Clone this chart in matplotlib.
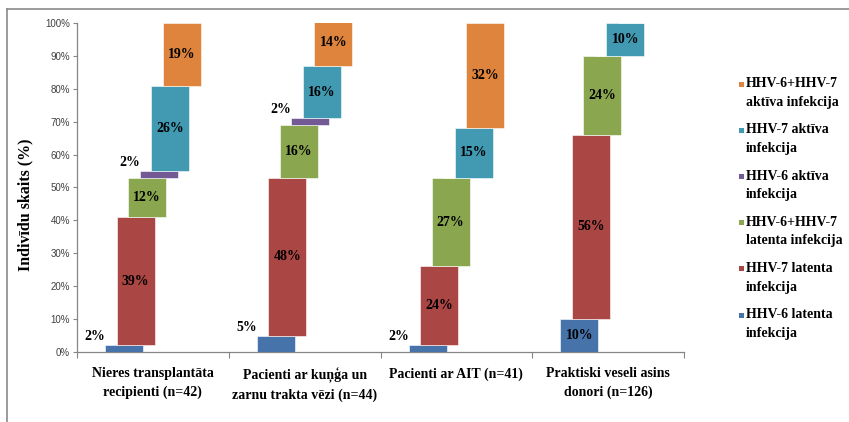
import matplotlib
matplotlib.use("Agg")
import matplotlib.pyplot as plt
from matplotlib.patches import Rectangle
from matplotlib.lines import Line2D
import numpy as np

groups = ["Nieres transplantāta\nrecipienti (n=42)",
          "Pacienti ar kuņģa un\nzarnu trakta vēzi (n=44)",
          "Pacienti ar AIT (n=41)",
          "Praktiski veseli asins\ndonori (n=126)"]

series = ["HHV-6 latenta\ninfekcija",
          "HHV-7 latenta\ninfekcija",
          "HHV-6+HHV-7\nlatenta infekcija",
          "HHV-6 aktīva\ninfekcija",
          "HHV-7 aktīva\ninfekcija",
          "HHV-6+HHV-7\naktīva infekcija"]

hhv6_lat = [2, 5, 2, 10]
hhv7_lat = [39, 48, 24, 56]
both_lat = [12, 16, 27, 24]
hhv6_akt = [2, 2, 0, 0]
hhv7_akt = [26, 16, 15, 10]
both_akt = [19, 14, 32, 0]

colors = ["#4673AA", "#AA4644", "#8AA64E", "#735A95", "#4199B2", "#DE843D"]

values = [hhv6_lat, hhv7_lat, both_lat, hhv6_akt, hhv7_akt, both_akt]

serif = "Liberation Serif"
W, H = 849, 422

fig = plt.figure(figsize=(W / 100, H / 100), dpi=100)
ax = fig.add_axes([0.0907, 0.1659, 0.7150, 0.7796])

x = np.arange(len(groups))
width = 0.25
step = 0.0757
bottom = np.zeros(len(groups))
for j, vals in enumerate(values):
    vals = np.array(vals, dtype=float)
    xs = x + (j - 2.5) * step
    ax.bar(xs, vals, width, bottom=bottom, color=colors[j],
           edgecolor="white", linewidth=0.4, zorder=3)
    for xi, v, b in zip(xs, vals, bottom):
        if v <= 0:
            continue
        lab = f"{v:.0f}%"
        if v < 6:
            # small bars get their label outside, to the upper left
            ax.text(xi - width / 2, b + v + 0.6, lab, ha="right", va="bottom",
                    family=serif, fontweight="bold", fontsize=10, color="black")
        else:
            ax.text(xi, b + v / 2, lab, ha="center", va="center",
                    family=serif, fontweight="bold", fontsize=10, color="black")
    bottom = bottom + vals

ax.set_xlim(-0.5, len(groups) - 0.5)
ax.set_ylim(0, 100)
ax.set_yticks(np.arange(0, 101, 10))
ax.set_yticklabels([f"{t}%" for t in range(0, 101, 10)],
                   family="Liberation Sans", fontsize=7, color="#404040")
ax.tick_params(axis="y", length=3, width=0.8, color="#868686", pad=2)

ax.set_xticks(x)
ax.set_xticklabels(groups, family=serif, fontweight="bold", fontsize=10)
for t in ax.get_xticklabels():
    t.set_linespacing(1.55)
ax.set_xticks(np.arange(-0.5, len(groups), 1.0), minor=True)
ax.tick_params(axis="x", which="major", length=0, pad=11)
ax.tick_params(axis="x", which="minor", length=4, width=0.8, color="#868686")

for s in ["top", "right"]:
    ax.spines[s].set_visible(False)
for s in ["left", "bottom"]:
    ax.spines[s].set_color("#868686")
    ax.spines[s].set_linewidth(0.9)

ax.set_ylabel("Indivīdu skaits (%)", family=serif, fontweight="bold",
              fontsize=11.5)
ax.yaxis.set_label_coords(-0.072, 0.447)

# legend on the right, newest series on top
first_line_y = 84
entry_step = 46.2
for k, (name, c) in enumerate(zip(series[::-1], colors[::-1])):
    yc = first_line_y + k * entry_step
    fig.add_artist(Rectangle((739 / W, 1 - (yc + 2.5) / H), 5 / W, 5 / H,
                             transform=fig.transFigure, facecolor=c,
                             edgecolor="none"))
    fig.text(746 / W, 1 - (yc + 9) / H, name, ha="left", va="center",
             family=serif, fontweight="bold", fontsize=10, linespacing=1.55)

# outer frame (top and left edges only)
fig.add_artist(Line2D([0.0082, 1.0], [0.9787, 0.9787], color="#8a8a8a", lw=1.2))
fig.add_artist(Line2D([0.0082, 0.0082], [0.0, 0.9787], color="#8a8a8a", lw=1.2))

fig.savefig("out.png", dpi=100)
